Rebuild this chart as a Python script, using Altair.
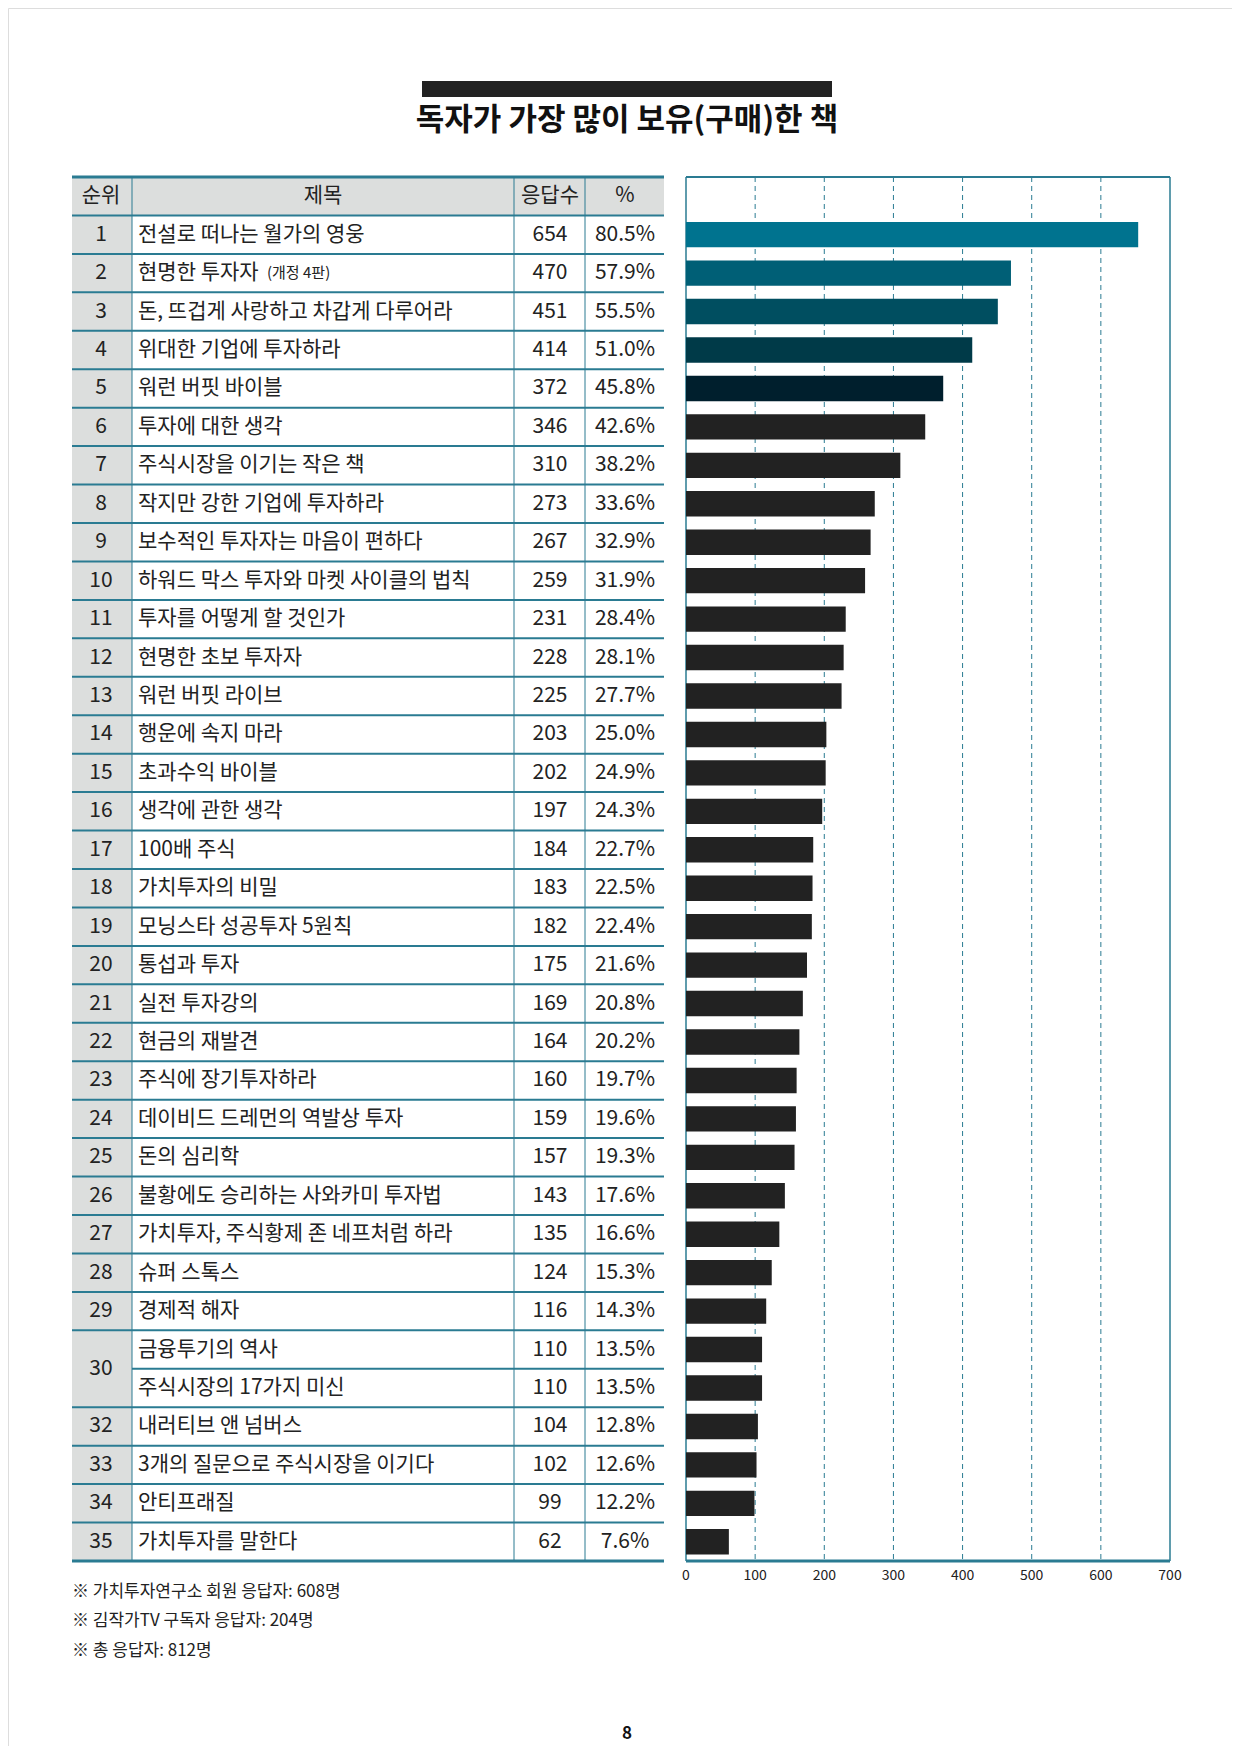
import altair as alt
import pandas as pd

ranks = ["1","2","3","4","5","6","7","8","9","10","11","12","13","14","15","16","17","18","19","20","21","22","23","24","25","26","27","28","29","30","30","32","33","34","35"]
titles = ["전설로 떠나는 월가의 영웅","현명한 투자자","돈, 뜨겁게 사랑하고 차갑게 다루어라","위대한 기업에 투자하라","워런 버핏 바이블","투자에 대한 생각","주식시장을 이기는 작은 책","작지만 강한 기업에 투자하라","보수적인 투자자는 마음이 편하다","하워드 막스 투자와 마켓 사이클의 법칙","투자를 어떻게 할 것인가","현명한 초보 투자자","워런 버핏 라이브","행운에 속지 마라","초과수익 바이블","생각에 관한 생각","100배 주식","가치투자의 비밀","모닝스타 성공투자 5원칙","통섭과 투자","실전 투자강의","현금의 재발견","주식에 장기투자하라","데이비드 드레먼의 역발상 투자","돈의 심리학","불황에도 승리하는 사와카미 투자법","가치투자, 주식황제 존 네프처럼 하라","슈퍼 스톡스","경제적 해자","금융투기의 역사","주식시장의 17가지 미신","내러티브 앤 넘버스","3개의 질문으로 주식시장을 이기다","안티프래질","가치투자를 말한다"]
counts = [654,470,451,414,372,346,310,273,267,259,231,228,225,203,202,197,184,183,182,175,169,164,160,159,157,143,135,124,116,110,110,104,102,99,62]
pcts = ["80.5%","57.9%","55.5%","51.0%","45.8%","42.6%","38.2%","33.6%","32.9%","31.9%","28.4%","28.1%","27.7%","25.0%","24.9%","24.3%","22.7%","22.5%","22.4%","21.6%","20.8%","20.2%","19.7%","19.6%","19.3%","17.6%","16.6%","15.3%","14.3%","13.5%","13.5%","12.8%","12.6%","12.2%","7.6%"]
bar_colors = ["#00738f","#005f76","#004e60","#003a48","#001f2d"] + ["#222222"] * 30
ticks = [0,100,200,300,400,500,600,700]
notes = ["※ 가치투자연구소 회원 응답자: 608명","※ 김작가TV 구독자 응답자: 204명","※ 총 응답자: 812명"]

FONT = "Noto Sans CJK KR"
TEAL = "#2a7b92"
O = 8  # page margin

df = pd.DataFrame({
    "r": list(range(1, 36)),
    "rank": ranks, "title": titles, "count": counts, "pct": pcts, "color": bar_colors,
})
df["rc"] = df["r"] + 0.5
df["b0"] = df["r"] + 0.17
df["b1"] = df["r"] + 0.83
df["zero"] = 0
rankdf = df[df["rank"] != "30"].copy()
r30 = pd.DataFrame({"rank": ["30"], "rc": [31.0]})
subdf = pd.DataFrame({"sub": ["(개정 4판)"], "rc": [2.5]})

Y = alt.Scale(domain=[0, 36], range=[177 - O, 1561 - O])
X = alt.Scale(domain=[0, 700], range=[686 - O, 1170 - O])
y_ = lambda f: alt.Y(f + ":Q", scale=Y, axis=None)
x_ = lambda f: alt.X(f + ":Q", scale=X, axis=None)

layers = []
layers.append(alt.Chart(pd.DataFrame({"a": [0]})).mark_rect(color="#222222").encode(
    x=alt.value(422 - O), x2=alt.value(832 - O), y=alt.value(81 - O), y2=alt.value(97 - O)))
layers.append(alt.Chart(pd.DataFrame({"t": ["독자가 가장 많이 보유(구매)한 책"]})).mark_text(
    font=FONT, fontSize=31, fontWeight="bold", color="#111111").encode(
    text="t:N", x=alt.value(627 - O), y=alt.value(121 - O)))

layers.append(alt.Chart(pd.DataFrame({"y0": [0], "y1": [1]})).mark_rect(color="#dcdedd").encode(
    y=y_("y0"), y2="y1:Q", x=alt.value(72 - O), x2=alt.value(664 - O)))
layers.append(alt.Chart(pd.DataFrame({"y0": [1], "y1": [36]})).mark_rect(color="#dcdedd").encode(
    y=y_("y0"), y2="y1:Q", x=alt.value(72 - O), x2=alt.value(132 - O)))

bnd = pd.DataFrame({"b": [i for i in range(1, 36) if i != 31]})
layers.append(alt.Chart(bnd).mark_rule(color=TEAL, strokeWidth=2).encode(
    y=y_("b"), x=alt.value(72 - O), x2=alt.value(664 - O)))
layers.append(alt.Chart(pd.DataFrame({"b": [31]})).mark_rule(color=TEAL, strokeWidth=2).encode(
    y=y_("b"), x=alt.value(132 - O), x2=alt.value(664 - O)))
layers.append(alt.Chart(pd.DataFrame({"b": [0, 36]})).mark_rule(color=TEAL, strokeWidth=3).encode(
    y=y_("b"), x=alt.value(72 - O), x2=alt.value(664 - O)))
for xv in [132, 514, 585]:
    layers.append(alt.Chart(pd.DataFrame({"a": [0], "b": [36]})).mark_rule(color=TEAL, strokeWidth=1).encode(
        y=y_("a"), y2="b:Q", x=alt.value(xv - O)))

hd = pd.DataFrame({"t": ["순위", "제목", "응답수", "%"], "x": [101, 323, 550, 625]})
for _, row in hd.iterrows():
    layers.append(alt.Chart(pd.DataFrame({"t": [row.t], "rc": [0.5]})).mark_text(
        font=FONT, fontSize=21, color="#222222").encode(text="t:N", y=y_("rc"), x=alt.value(row.x - O)))

layers.append(alt.Chart(rankdf).mark_text(font=FONT, fontSize=21, color="#222222").encode(
    text="rank:N", y=y_("rc"), x=alt.value(101 - O)))
layers.append(alt.Chart(r30).mark_text(font=FONT, fontSize=21, color="#222222").encode(
    text="rank:N", y=y_("rc"), x=alt.value(101 - O)))
layers.append(alt.Chart(df).mark_text(font=FONT, fontSize=21, color="#222222", align="left").encode(
    text="title:N", y=y_("rc"), x=alt.value(138 - O)))
layers.append(alt.Chart(subdf).mark_text(font=FONT, fontSize=15, color="#222222", align="left").encode(
    text="sub:N", y=y_("rc"), x=alt.value(267 - O)))
layers.append(alt.Chart(df).mark_text(font=FONT, fontSize=21, color="#222222").encode(
    text="count:N", y=y_("rc"), x=alt.value(550 - O)))
layers.append(alt.Chart(df).mark_text(font=FONT, fontSize=21, color="#222222").encode(
    text="pct:N", y=y_("rc"), x=alt.value(625 - O)))

gr = pd.DataFrame({"t": [100, 200, 300, 400, 500, 600], "a": [0] * 6, "b": [36] * 6})
layers.append(alt.Chart(gr).mark_rule(color=TEAL, strokeWidth=1, strokeDash=[5, 4]).encode(
    x=x_("t"), y=y_("a"), y2="b:Q"))
fr = pd.DataFrame({"t": [0, 700], "a": [0, 0], "b": [36, 36]})
layers.append(alt.Chart(fr).mark_rule(color=TEAL, strokeWidth=1.5).encode(
    x=x_("t"), y=y_("a"), y2="b:Q"))
layers.append(alt.Chart(pd.DataFrame({"a": [0], "b": [700], "y": [0]})).mark_rule(color=TEAL, strokeWidth=2).encode(
    x=x_("a"), x2="b:Q", y=y_("y")))
layers.append(alt.Chart(pd.DataFrame({"a": [0], "b": [700], "y": [36]})).mark_rule(color=TEAL, strokeWidth=3).encode(
    x=x_("a"), x2="b:Q", y=y_("y")))

layers.append(alt.Chart(df).mark_rect().encode(
    x=x_("zero"), x2="count:Q", y=y_("b0"), y2="b1:Q",
    color=alt.Color("color:N", scale=None)))

layers.append(alt.Chart(pd.DataFrame({"t": ticks})).mark_text(font=FONT, fontSize=14, color="#222222").encode(
    x=x_("t"), text="t:N", y=alt.value(1576 - O)))

nd = pd.DataFrame({"t": notes, "yy": [1592, 1621, 1651]})
for _, row in nd.iterrows():
    layers.append(alt.Chart(pd.DataFrame({"t": [row.t]})).mark_text(
        font=FONT, fontSize=17, color="#222222", align="left").encode(
        text="t:N", x=alt.value(72 - O), y=alt.value(row.yy - O)))
layers.append(alt.Chart(pd.DataFrame({"t": ["8"]})).mark_text(
    font=FONT, fontSize=17, fontWeight="bold", color="#111111").encode(
    text="t:N", x=alt.value(627 - O), y=alt.value(1734 - O)))

chart = alt.layer(*layers).properties(
    width=1224, height=1738, autosize="none", padding=0
).configure_view(stroke=None).configure(background="white")

chart.save("out.html", embed_options={"renderer": "svg", "actions": False})
